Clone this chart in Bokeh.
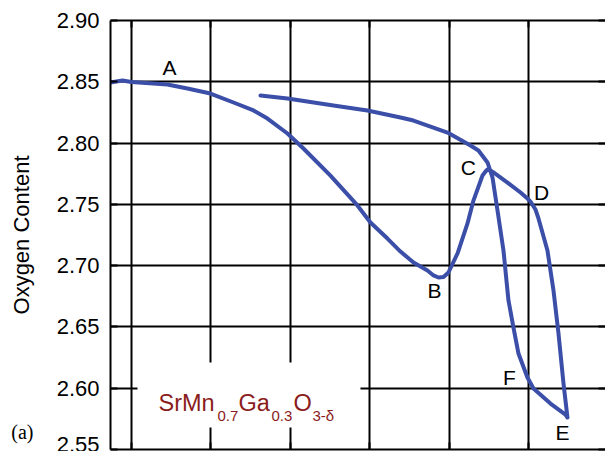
from bokeh.plotting import figure
from bokeh.models import Range1d, LinearAxis, FixedTicker, Label, BoxAnnotation, CustomJSTickFormatter
from bokeh.embed import file_html
from bokeh.resources import INLINE

# ---- data ----
x_vals = [73.6, 88.7, 100.0, 145.3, 170.5, 199.5, 228.5, 253.7, 271.3, 296.5, 316.6, 350.6,
          384.6, 401.0, 422.4, 438.8, 455.2, 472.8, 480.4, 486.6, 493.0, 499.2, 510.6, 523.2,
          530.7, 542.1, 545.9, 548.4, 552.1, 555.9, 573.6, 590.0, 598.7, 602.5, 608.8, 612.6,
          623.9, 631.5, 637.8, 644.1, 649.1, 646.6, 627.7, 606.3, 598.7, 587.4, 581.1, 574.8,
          568.5, 561.0, 554.7, 548.4, 537.0, 527.0, 498.0, 455.2, 438.8, 397.2, 354.4, 296.5,
          262.5]
y_vals = [2.8494, 2.8510, 2.8498, 2.8478, 2.8445, 2.8404, 2.8331, 2.8266, 2.8200, 2.8078,
          2.7956, 2.7735, 2.7491, 2.7352, 2.7221, 2.7115, 2.7026, 2.6960, 2.6920, 2.6903,
          2.6907, 2.6944, 2.7099, 2.7344, 2.7531, 2.7735, 2.7768, 2.7784, 2.7776, 2.7760,
          2.7678, 2.7597, 2.7548, 2.7523, 2.7458, 2.7385, 2.7124, 2.6797, 2.6446, 2.6038,
          2.5761, 2.5785, 2.5875, 2.5998, 2.6087, 2.6283, 2.6495, 2.6716, 2.7124, 2.7450,
          2.7719, 2.7842, 2.7939, 2.7980, 2.8086, 2.8184, 2.8209, 2.8266, 2.8307, 2.8364,
          2.8388]

point_names = ["A", "B", "C", "D", "E", "F"]
point_x = [147.9, 481.6, 524.4, 616.4, 642.8, 576.1]
point_y = [2.8617, 2.6797, 2.7801, 2.7597, 2.5639, 2.6087]

y_ticks = [2.55, 2.60, 2.65, 2.70, 2.75, 2.80, 2.85, 2.90]
y_tick_labels = ["2.55", "2.60", "2.65", "2.70", "2.75", "2.80", "2.85", "2.90"]
x_ticks = [100, 200, 300, 400, 500, 600, 700]
panel_tag = "(a)"

formula_parts = ["SrMn", "0.7", "Ga", "0.3", "O", "3-\u03b4"]
formula_sub = [False, True, False, True, False, True]
formula_x = [134.0, 208.3, 234.8, 276.3, 304.0, 328.0]

# ---- figure ----
FONT = "Liberation Sans"
p = figure(width=605, height=451, output_backend="svg", toolbar_location=None,
           x_range=Range1d(73.6, 697), y_range=Range1d(2.55, 2.90),
           min_border_left=110, min_border_right=0, min_border_top=20, min_border_bottom=2,
           x_axis_location=None, y_axis_location=None)
p.outline_line_color = None
p.background_fill_color = "white"
p.border_fill_color = "white"

empty = CustomJSTickFormatter(code="return ''")
xt = FixedTicker(ticks=x_ticks, num_minor_ticks=4)
yt = FixedTicker(ticks=y_ticks, num_minor_ticks=5)

def style(ax, labels=False):
    ax.axis_line_color = "black"
    ax.axis_line_width = 2
    ax.major_tick_line_color = "black"
    ax.major_tick_line_width = 2
    ax.minor_tick_line_color = "black"
    ax.minor_tick_line_width = 2
    ax.major_tick_in = 7
    ax.major_tick_out = 0
    ax.minor_tick_in = 5
    ax.minor_tick_out = 0
    if not labels:
        ax.formatter = empty
        ax.major_label_standoff = 0

left = LinearAxis(ticker=yt)
style(left, labels=True)
left.major_label_overrides = {t: l for t, l in zip(y_ticks, y_tick_labels)}
left.major_label_text_font = FONT
left.major_label_text_font_size = "22px"
left.major_label_text_color = "black"
left.major_label_standoff = 11
left.axis_label = "Oxygen Content"
left.axis_label_text_font = FONT
left.axis_label_text_font_size = "22px"
left.axis_label_text_font_style = "normal"
left.axis_label_text_color = "black"
left.axis_label_standoff = 20
p.add_layout(left, "left")

# outer left axis carrying only the panel tag "(a)"
tag_axis = LinearAxis(ticker=FixedTicker(ticks=[y_ticks[0]], num_minor_ticks=0))
tag_axis.major_label_overrides = {y_ticks[0]: panel_tag}
tag_axis.axis_line_color = None
tag_axis.major_tick_line_color = None
tag_axis.minor_tick_line_color = None
tag_axis.major_tick_in = 0
tag_axis.major_tick_out = 0
tag_axis.minor_tick_in = 0
tag_axis.minor_tick_out = 0
tag_axis.major_label_standoff = -28
tag_axis.major_label_text_font = "Liberation Serif"
tag_axis.major_label_text_font_size = "20px"
tag_axis.major_label_text_color = "black"
p.add_layout(tag_axis, "left")

right = LinearAxis(ticker=yt)
style(right)
right.axis_line_color = None
p.add_layout(right, "right")

top = LinearAxis(ticker=xt)
style(top)
p.add_layout(top, "above")

bottom = LinearAxis(ticker=xt)
style(bottom)
p.add_layout(bottom, "below")

p.xgrid.ticker = xt
p.ygrid.ticker = yt
for g in (p.xgrid, p.ygrid):
    g.grid_line_color = "black"
    g.grid_line_width = 2
    g.grid_line_alpha = 1

p.line(x_vals, y_vals, line_width=4, line_color="#3c4fa8", line_join="round", line_cap="round")

for n, x, y in zip(point_names, point_x, point_y):
    p.add_layout(Label(x=x, y=y, text=n, text_align="center", text_baseline="middle",
                       text_font=FONT, text_font_size="21px", text_color="black"))

# formula with white background box
p.add_layout(BoxAnnotation(left=107.6, right=388.4, top=2.621, bottom=2.568,
                           fill_color="white", fill_alpha=1, line_color=None, level="annotation"))
for t, sub, x in zip(formula_parts, formula_sub, formula_x):
    p.add_layout(Label(x=x, y=2.5777 if sub else 2.5883, text=t, text_align="left",
                       text_baseline="alphabetic", text_font=FONT,
                       text_font_size="15px" if sub else "23.5px", text_color="#8b1c1c"))

open("out.html", "w").write(file_html(p, INLINE))
